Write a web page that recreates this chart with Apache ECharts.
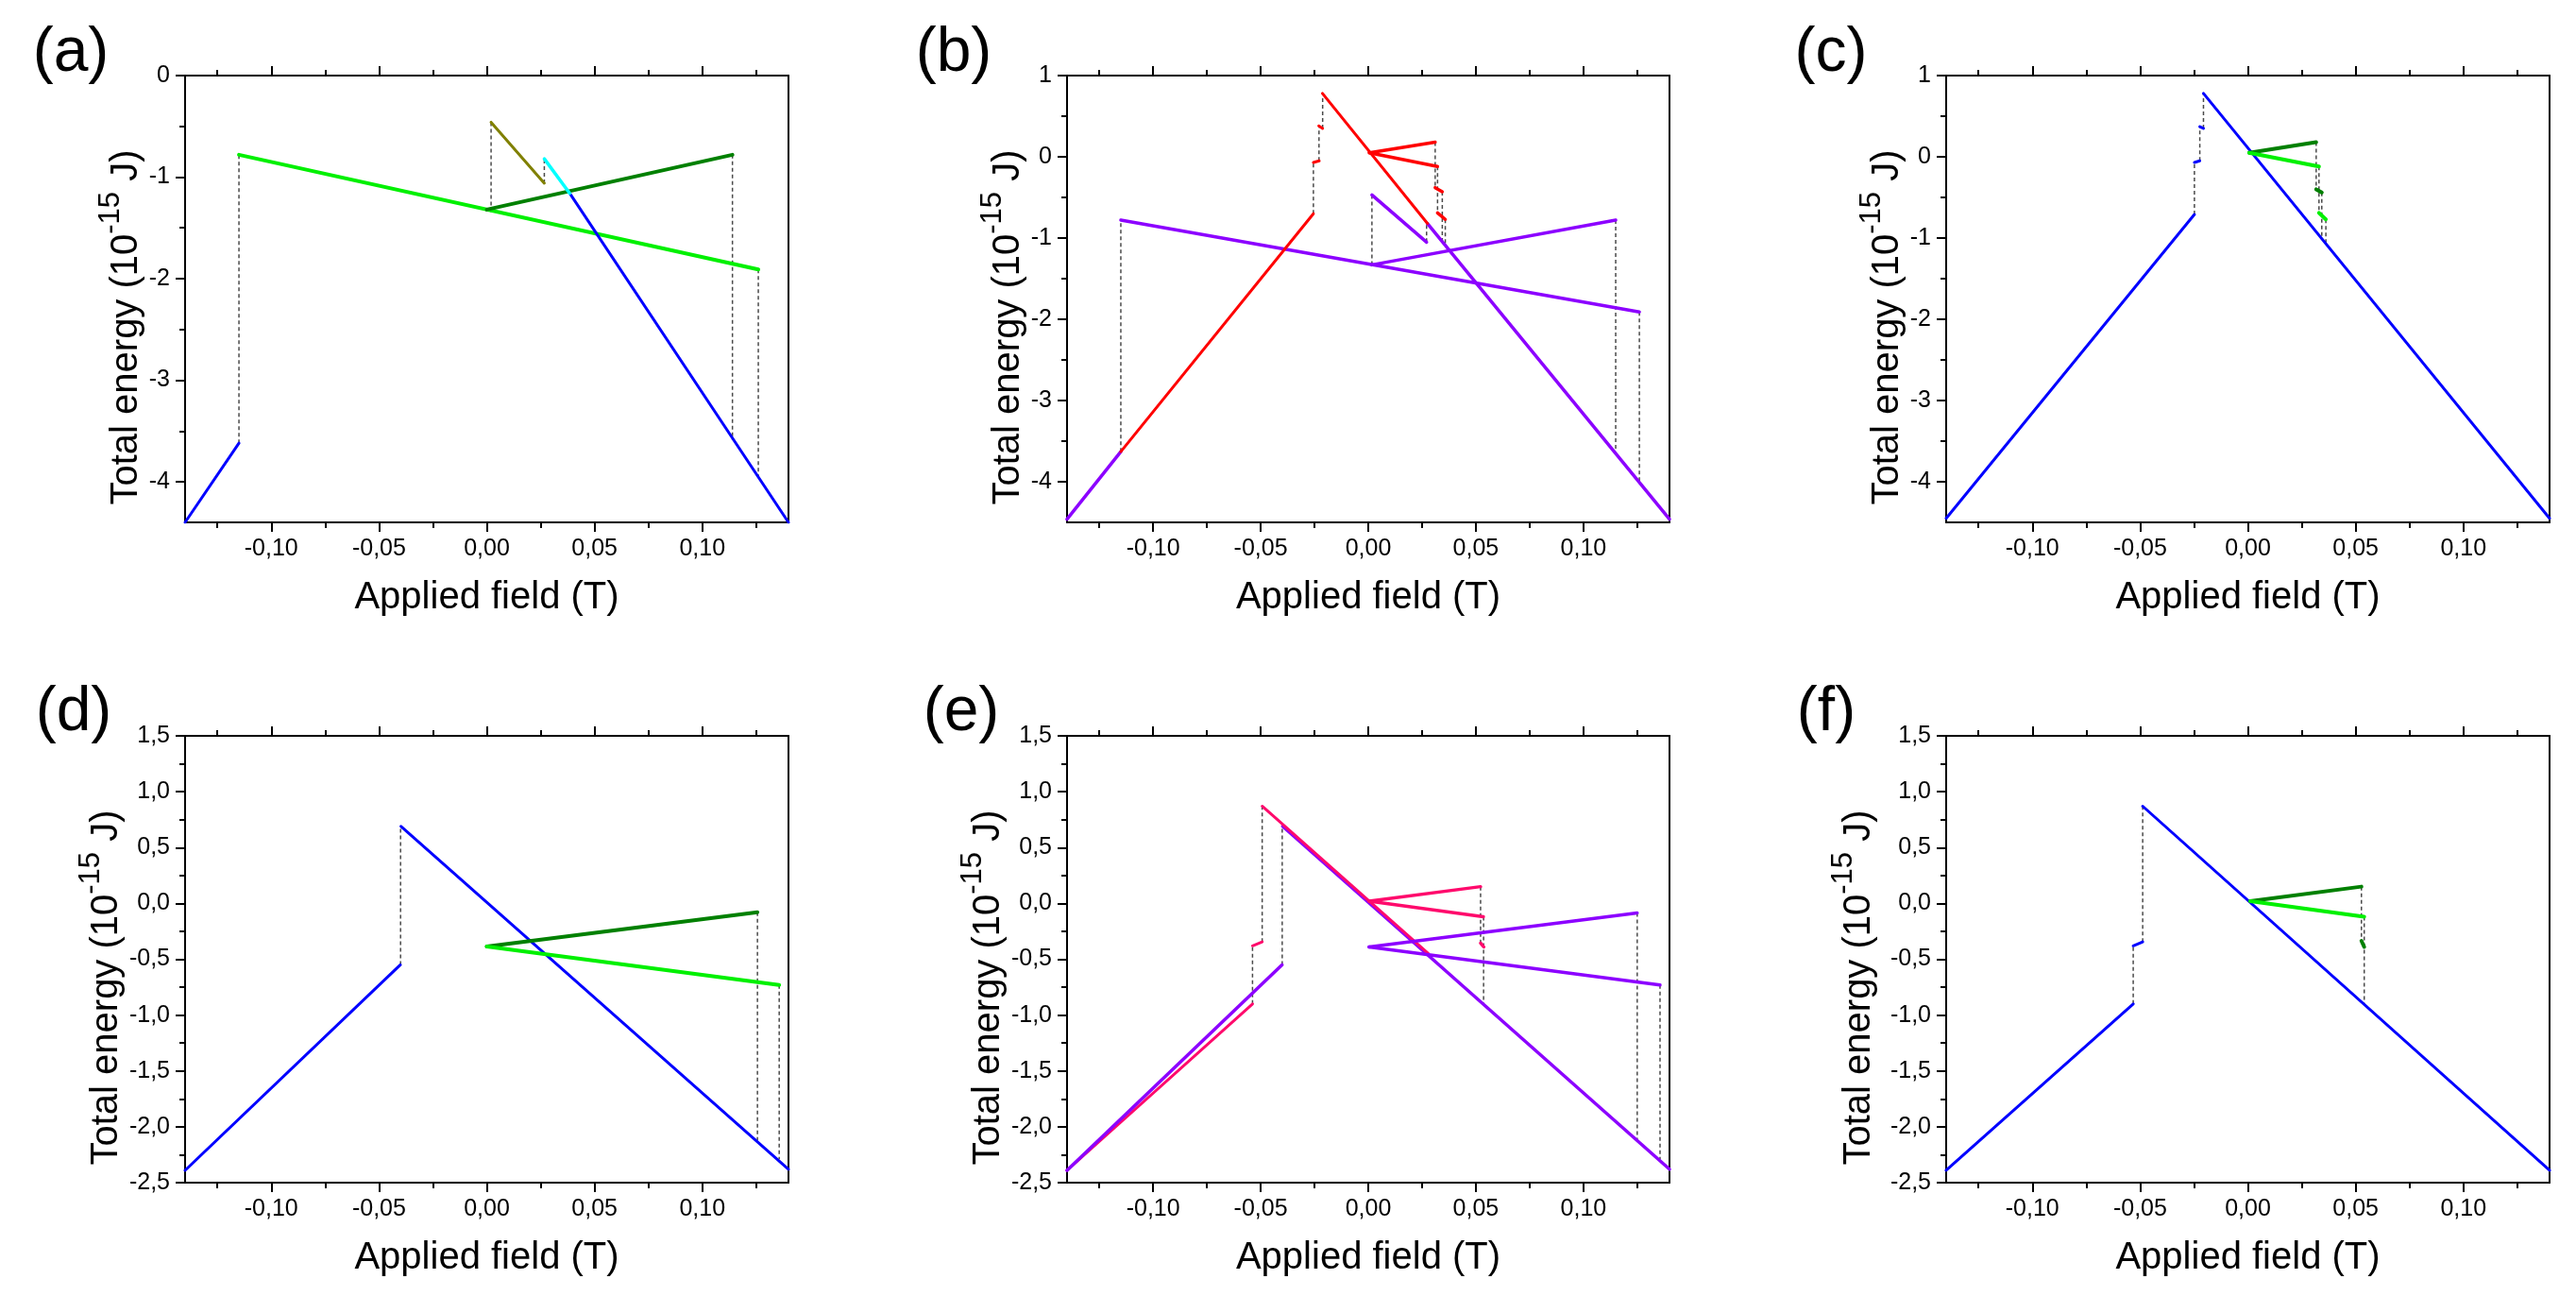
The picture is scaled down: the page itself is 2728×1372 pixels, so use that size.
<!DOCTYPE html>
<html><head><meta charset="utf-8">
<script src="https://cdn.jsdelivr.net/npm/echarts@6/dist/echarts.min.js"></script>
<style>html,body{margin:0;padding:0;background:#fff}#c{width:2728px;height:1372px}</style>
</head><body><div id="c"></div>
<script>
// ---------- tick labels / ticks ----------
const xMajorTicks = [-0.10, -0.05, 0.00, 0.05, 0.10];
const xMinorTicks = [-0.125, -0.075, -0.025, 0.025, 0.075, 0.125];
const yMajorA = [0, -1, -2, -3, -4];
const yMinorA = [-0.5, -1.5, -2.5, -3.5];
const yMajorBC = [1, 0, -1, -2, -3, -4];
const yMinorBC = [0.5, -0.5, -1.5, -2.5, -3.5];
const yMajorDEF = [1.5, 1.0, 0.5, 0.0, -0.5, -1.0, -1.5, -2.0, -2.5];
const yMinorDEF = [1.25, 0.75, 0.25, -0.25, -0.75, -1.25, -1.75, -2.25];
const panelLetters = ['(a)', '(b)', '(c)', '(d)', '(e)', '(f)'];
const xAxisTitle = 'Applied field (T)';
const yAxisTitle = '{n|Total energy (10}{s|-15}{n| J)}';

// ---------- panel (a) ----------
const a_blueLow = [[-0.140, -4.40], [-0.115, -3.62]];
const a_lightGreen = [[-0.115, -0.78], [0.126, -1.91]];
const a_darkGreen = [[0.000, -1.32], [0.114, -0.78]];
const a_olive = [[0.002, -0.46], [0.0267, -1.06]];
const a_cyan = [[0.0267, -0.82], [0.0385, -1.16]];
const a_blueHigh = [[0.0385, -1.16], [0.140, -4.40]];
const a_drops = [[-0.115, -3.62, -0.78], [0.126, -1.91, -3.95], [0.114, -0.78, -3.59], [0.002, -0.46, -1.37], [0.0267, -1.06, -0.82]];

// ---------- panel (b) ----------
const b_purpleLow = [[-0.140, -4.46], [-0.115, -3.63]];
const b_redLow = [[-0.115, -3.63], [-0.0255, -0.70]];
const b_redStep1 = [[-0.0255, -0.07], [-0.0228, -0.05]];
const b_redStep2 = [[-0.0230, 0.38], [-0.0212, 0.35]];
const b_redMain = [[-0.0213, 0.78], [0.0275, -0.82]];
const b_purpleMain = [[0.0275, -0.82], [0.140, -4.46]];
const b_redUp = [[0.0005, 0.05], [0.0311, 0.18]];
const b_redDown = [[0.0005, 0.05], [0.0322, -0.12]];
const b_redStep3 = [[0.0311, -0.38], [0.0344, -0.43]];
const b_redStep4 = [[0.0322, -0.69], [0.0358, -0.77]];
const b_purpleDown = [[-0.115, -0.78], [0.126, -1.91]];
const b_purpleUp = [[0.0017, -1.33], [0.115, -0.78]];
const b_purpleShort = [[0.0017, -0.47], [0.0271, -1.05]];
const b_drops = [[-0.115, -3.63, -0.78], [-0.0255, -0.70, -0.07], [-0.0229, -0.05, 0.38], [-0.0212, 0.35, 0.78],
  [0.0311, 0.18, -0.38], [0.0322, -0.12, -0.69], [0.0344, -0.43, -1.04], [0.0358, -0.77, -1.08],
  [0.0017, -0.47, -1.33], [0.0271, -1.05, -0.82], [0.115, -0.78, -3.66], [0.126, -1.91, -4.02]];

// ---------- panel (c) ----------
const c_blueLow = [[-0.140, -4.45], [-0.0248, -0.71]];
const c_blueStep1 = [[-0.0248, -0.07], [-0.0223, -0.05]];
const c_blueStep2 = [[-0.0223, 0.37], [-0.0206, 0.35]];
const c_blueMain = [[-0.0206, 0.78], [0.140, -4.45]];
const c_darkUp = [[0.0006, 0.05], [0.0317, 0.18]];
const c_lightDown = [[0.0006, 0.05], [0.0330, -0.12]];
const c_darkStep = [[0.0317, -0.40], [0.0343, -0.44]];
const c_lightStep = [[0.0330, -0.69], [0.0362, -0.77]];
const c_drops = [[-0.0248, -0.71, -0.07], [-0.0223, -0.05, 0.37], [-0.0206, 0.35, 0.78],
  [0.0317, 0.18, -0.40], [0.0330, -0.12, -0.69], [0.0343, -0.44, -1.00], [0.0362, -0.77, -1.07]];

// ---------- panel (d) ----------
const d_blueLow = [[-0.140, -2.39], [-0.0401, -0.55]];
const d_blueMain = [[-0.0398, 0.69], [0.140, -2.38]];
const d_darkUp = [[0.000, -0.385], [0.1256, -0.08]];
const d_lightDown = [[0.000, -0.385], [0.1357, -0.73]];
const d_drops = [[-0.0400, -0.55, 0.69], [0.1256, -0.08, -2.12], [0.1357, -0.73, -2.29]];

// ---------- panel (e) ----------
const e_purpleLow = [[-0.140, -2.39], [-0.0401, -0.55]];
const e_pinkLow = [[-0.140, -2.39], [-0.0538, -0.90]];
const e_pinkStep1 = [[-0.0538, -0.38], [-0.0493, -0.345]];
const e_pinkMain = [[-0.0493, 0.87], [0.028, -0.45]];
const e_purpleMain = [[-0.0398, 0.69], [0.140, -2.38]];
const e_pinkUp = [[0.0004, 0.02], [0.0522, 0.15]];
const e_pinkDown = [[0.0004, 0.02], [0.0535, -0.12]];
const e_pinkStep2 = [[0.0522, -0.355], [0.0537, -0.39]];
const e_purpleUp = [[0.0004, -0.39], [0.125, -0.085]];
const e_purpleDown = [[0.0004, -0.39], [0.1356, -0.73]];
const e_drops = [[-0.0538, -0.90, -0.38], [-0.0493, -0.345, 0.87], [-0.0400, -0.55, 0.69],
  [0.0522, 0.15, -0.355], [0.0536, -0.12, -0.90], [0.125, -0.085, -2.12], [0.1356, -0.73, -2.29]];

// ---------- panel (f) ----------
const f_blueLow = [[-0.140, -2.39], [-0.0532, -0.90]];
const f_blueStep = [[-0.0532, -0.38], [-0.0488, -0.345]];
const f_blueMain = [[-0.0488, 0.87], [0.140, -2.39]];
const f_darkUp = [[0.0011, 0.02], [0.0527, 0.15]];
const f_lightDown = [[0.0011, 0.02], [0.054, -0.12]];
const f_darkStep = [[0.0527, -0.335], [0.054, -0.39]];
const f_drops = [[-0.0532, -0.90, -0.38], [-0.0488, -0.345, 0.87], [0.0527, 0.15, -0.335], [0.054, -0.12, -0.90]];

// ---------- styles / layout ----------
const FONT = 'Liberation Sans, Arial, Helvetica, sans-serif';
const BLUE = '#0000ff', LGREEN = '#00f000', DGREEN = '#008000', OLIVE = '#808000', CYAN = '#00ffff',
  RED = '#ff0000', PURPLE = '#8c00ff', PINK = '#ff0a6c';

const layout = [
  { left: 196, top: 80, width: 639, height: 473, yMin: -4.4, yMax: 0, yMaj: yMajorA, yMin2: yMinorA, dec: 0, gap: 35, lx: 75, ly: 57 },
  { left: 1130, top: 80, width: 638, height: 473, yMin: -4.5, yMax: 1, yMaj: yMajorBC, yMin2: yMinorBC, dec: 0, gap: 39, lx: 1010, ly: 57 },
  { left: 2061, top: 80, width: 639, height: 473, yMin: -4.5, yMax: 1, yMaj: yMajorBC, yMin2: yMinorBC, dec: 0, gap: 41, lx: 1939, ly: 57 },
  { left: 196, top: 779, width: 639, height: 473, yMin: -2.5, yMax: 1.5, yMaj: yMajorDEF, yMin2: yMinorDEF, dec: 1, gap: 60, lx: 78, ly: 755 },
  { left: 1130, top: 779, width: 638, height: 473, yMin: -2.5, yMax: 1.5, yMaj: yMajorDEF, yMin2: yMinorDEF, dec: 1, gap: 63, lx: 1018, ly: 755 },
  { left: 2061, top: 779, width: 639, height: 473, yMin: -2.5, yMax: 1.5, yMaj: yMajorDEF, yMin2: yMinorDEF, dec: 1, gap: 72, lx: 1934, ly: 755 }
];

const lineBlack = { color: '#000', width: 2 };
const grid = [], xAxis = [], yAxis = [], graphic = [];

layout.forEach((L, i) => {
  grid.push({ left: L.left, top: L.top, width: L.width, height: L.height, containLabel: false, outerBoundsMode: 'none' });
  const xBase = { type: 'value', gridIndex: i, min: -0.14, max: 0.14, splitLine: { show: false } };
  xAxis.push(Object.assign({}, xBase, {
    position: 'bottom',
    axisLine: { show: true, onZero: false, lineStyle: lineBlack },
    axisTick: { show: true, inside: false, customValues: xMajorTicks, length: 10, lineStyle: lineBlack },
    axisLabel: { show: true, customValues: xMajorTicks, margin: 16, fontSize: 25, color: '#000', fontFamily: FONT,
      formatter: v => v.toFixed(2).replace('.', ',') },
    name: xAxisTitle, nameLocation: 'middle', nameGap: 60,
    nameTextStyle: { fontSize: 40, color: '#000', fontFamily: FONT }
  }));
  xAxis.push(Object.assign({}, xBase, {
    position: 'bottom',
    axisLine: { show: false, onZero: false },
    axisTick: { show: true, inside: false, customValues: xMinorTicks, length: 6, lineStyle: lineBlack },
    axisLabel: { show: false }
  }));
  xAxis.push(Object.assign({}, xBase, {
    position: 'top',
    axisLine: { show: true, onZero: false, lineStyle: lineBlack },
    axisTick: { show: true, inside: false, customValues: xMajorTicks, length: 10, lineStyle: lineBlack },
    axisLabel: { show: false }
  }));
  xAxis.push(Object.assign({}, xBase, {
    position: 'top',
    axisLine: { show: false, onZero: false },
    axisTick: { show: true, inside: false, customValues: xMinorTicks, length: 6, lineStyle: lineBlack },
    axisLabel: { show: false }
  }));

  const yBase = { type: 'value', gridIndex: i, min: L.yMin, max: L.yMax, splitLine: { show: false } };
  const dec = L.dec;
  yAxis.push(Object.assign({}, yBase, {
    position: 'left',
    axisLine: { show: true, onZero: false, lineStyle: lineBlack },
    axisTick: { show: true, inside: false, customValues: L.yMaj, length: 10, lineStyle: lineBlack },
    axisLabel: { show: true, customValues: L.yMaj, margin: 16, fontSize: 25, color: '#000', fontFamily: FONT,
      formatter: v => dec ? v.toFixed(dec).replace('.', ',') : String(Math.round(v)) },
    name: yAxisTitle, nameLocation: 'middle', nameGap: L.gap, nameRotate: 90,
    nameTextStyle: {
      color: '#000', fontFamily: FONT, fontSize: 40, padding: [0, 60, 0, 0],
      rich: {
        n: { fontSize: 40, color: '#000', fontFamily: FONT, lineHeight: 52, verticalAlign: 'bottom' },
        s: { fontSize: 31, color: '#000', fontFamily: FONT, lineHeight: 31, verticalAlign: 'top' }
      }
    }
  }));
  yAxis.push(Object.assign({}, yBase, {
    position: 'left',
    axisLine: { show: false, onZero: false },
    axisTick: { show: true, inside: false, customValues: L.yMin2, length: 6, lineStyle: lineBlack },
    axisLabel: { show: false }
  }));
  yAxis.push(Object.assign({}, yBase, {
    position: 'right',
    axisLine: { show: true, onZero: false, lineStyle: lineBlack },
    axisTick: { show: false },
    axisLabel: { show: false }
  }));

  graphic.push({
    type: 'text', x: L.lx, y: L.ly, silent: true,
    style: { text: panelLetters[i], font: '66px ' + FONT, fill: '#000', align: 'center', verticalAlign: 'middle',
      textAlign: 'center', textVerticalAlign: 'middle' }
  });
});

const series = [];
function seg(p, data, color, width) {
  series.push({ type: 'line', xAxisIndex: 4 * p, yAxisIndex: 3 * p, data: data, symbol: 'none', showSymbol: false,
    silent: true, animation: false, z: 3, lineStyle: { color: color, width: width, cap: 'round' } });
}
function drops(p, arr) {
  arr.forEach(d => {
    series.push({ type: 'line', xAxisIndex: 4 * p, yAxisIndex: 3 * p, data: [[d[0], d[1]], [d[0], d[2]]],
      symbol: 'none', showSymbol: false, silent: true, animation: false, z: 2,
      lineStyle: { color: '#4a4a4a', width: 1.5, type: [4, 3] } });
  });
}

// (a)
drops(0, a_drops);
seg(0, a_lightGreen, LGREEN, 4);
seg(0, a_darkGreen, DGREEN, 4);
seg(0, a_olive, OLIVE, 3);
seg(0, a_blueLow, BLUE, 3);
seg(0, a_blueHigh, BLUE, 3);
seg(0, a_cyan, CYAN, 3.5);
// (b)
drops(1, b_drops);
seg(1, b_purpleDown, PURPLE, 3.5);
seg(1, b_purpleUp, PURPLE, 3.5);
seg(1, b_purpleShort, PURPLE, 3.5);
seg(1, b_purpleLow, PURPLE, 3.5);
seg(1, b_purpleMain, PURPLE, 3.5);
seg(1, b_redLow, RED, 3);
seg(1, b_redMain, RED, 3);
seg(1, b_redStep1, RED, 3);
seg(1, b_redStep2, RED, 3);
seg(1, b_redUp, RED, 3.5);
seg(1, b_redDown, RED, 3.5);
seg(1, b_redStep3, RED, 3.5);
seg(1, b_redStep4, RED, 3.5);
// (c)
drops(2, c_drops);
seg(2, c_blueLow, BLUE, 3);
seg(2, c_blueMain, BLUE, 3);
seg(2, c_blueStep1, BLUE, 3);
seg(2, c_blueStep2, BLUE, 3);
seg(2, c_darkUp, DGREEN, 4);
seg(2, c_lightDown, LGREEN, 4);
seg(2, c_darkStep, DGREEN, 4);
seg(2, c_lightStep, LGREEN, 4);
// (d)
drops(3, d_drops);
seg(3, d_blueLow, BLUE, 3);
seg(3, d_blueMain, BLUE, 3);
seg(3, d_darkUp, DGREEN, 4);
seg(3, d_lightDown, LGREEN, 4);
// (e)
drops(4, e_drops);
seg(4, e_pinkLow, PINK, 3);
seg(4, e_purpleLow, PURPLE, 3.5);
seg(4, e_purpleMain, PURPLE, 3.5);
seg(4, e_pinkMain, PINK, 3);
seg(4, e_pinkStep1, PINK, 3);
seg(4, e_pinkUp, PINK, 3.5);
seg(4, e_pinkDown, PINK, 3.5);
seg(4, e_pinkStep2, PINK, 3.5);
seg(4, e_purpleUp, PURPLE, 3.5);
seg(4, e_purpleDown, PURPLE, 3.5);
// (f)
drops(5, f_drops);
seg(5, f_blueLow, BLUE, 3);
seg(5, f_blueMain, BLUE, 3);
seg(5, f_blueStep, BLUE, 3);
seg(5, f_darkUp, DGREEN, 4);
seg(5, f_lightDown, LGREEN, 4);
seg(5, f_darkStep, DGREEN, 4);

const chart = echarts.init(document.getElementById('c'), null, { renderer: 'canvas' });
chart.setOption({
  backgroundColor: '#ffffff',
  animation: false,
  textStyle: { fontFamily: FONT },
  grid: grid, xAxis: xAxis, yAxis: yAxis, graphic: graphic, series: series
});
</script>
</body></html>
